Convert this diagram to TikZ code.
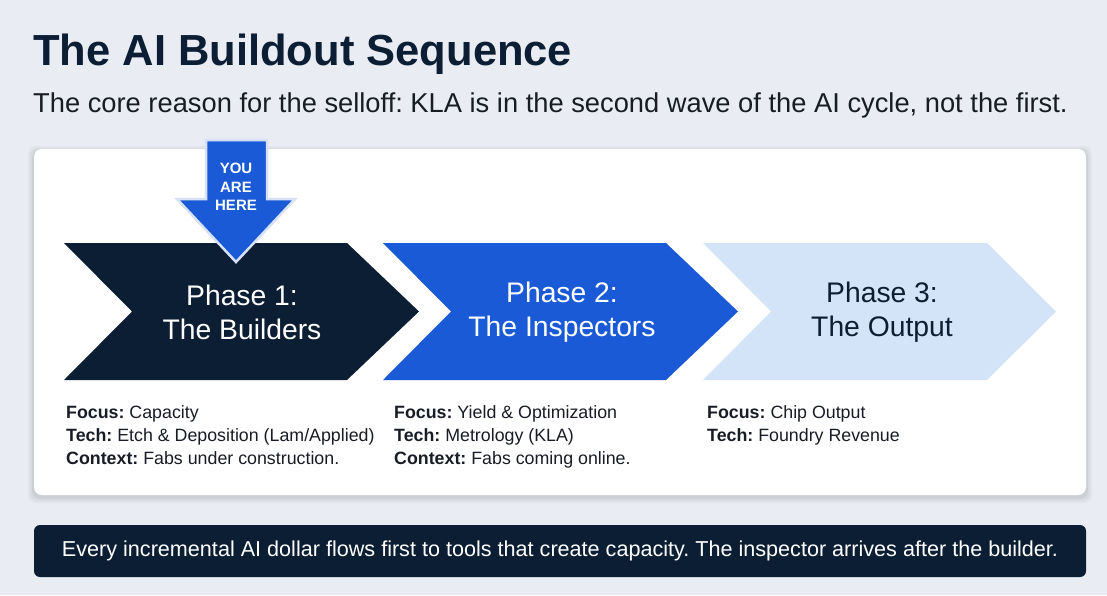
\documentclass[tikz,border=0pt]{standalone}
\usepackage{fontspec}
\setmainfont{Liberation Sans}
\frenchspacing
\usetikzlibrary{positioning}
\definecolor{bg}{RGB}{233,236,242}
\definecolor{navy}{RGB}{12,30,52}
\definecolor{royal}{RGB}{27,90,214}
\definecolor{pale}{RGB}{211,228,248}
\definecolor{ink}{RGB}{24,28,36}

\begin{document}
\begin{tikzpicture}[x=1pt, y=-1pt,
    headline/.style={anchor=base west, inner sep=0, font=\fontsize{43.5}{50}\selectfont\bfseries, text=navy},
    subline/.style={anchor=base west, inner sep=0, font=\fontsize{27.3}{32}\selectfont, text=ink},
    panel/.style={rectangle, rounded corners=8pt, fill=white, minimum width=1052pt, minimum height=346pt},
    phase/.style={align=center, font=\fontsize{28.3}{34}\selectfont},
    detail/.style={anchor=north west, align=left, inner sep=0, font=\fontsize{17.8}{23}\selectfont, text=ink},
    footer/.style={rectangle, rounded corners=6pt, fill=navy, text=white, minimum width=1052pt, minimum height=52pt, font=\fontsize{21.6}{26}\selectfont}
]
    % Background
    \fill[bg] (0,0) rectangle (1107,595);
    \useasboundingbox (0,0) rectangle (1107,595);

    % Heading
    \node[headline] (title) at (33,65) {The AI Buildout Sequence};
    \node[subline] (sub) at (33,112) {The core reason for the selloff: KLA is in the second wave of the AI cycle, not the first.};

    % Main panel with soft shadow
    \foreach \s/\o in {6/0.03, 4/0.04, 2/0.05}
        \fill[black, opacity=\o, rounded corners=8pt] (34-\s,149-\s+3) rectangle (1086+\s,495+\s+2);
    \node[panel] (board) at (560,322) {};

    % Phase chevrons
    \fill[navy] (64,243) -- (347,243) -- (419,311.5) -- (347,380) -- (64,380) -- (132,311.5) -- cycle;
    \fill[royal] (383,243) -- (666,243) -- (738,311.5) -- (666,380) -- (383,380) -- (451,311.5) -- cycle;
    \fill[pale] (703,243) -- (987,243) -- (1056,311.5) -- (987,380) -- (703,380) -- (771,311.5) -- cycle;

    \node[phase, text=white] (p1) at (242,312) {Phase 1:\\The Builders};
    \node[phase, text=white] (p2) at (562,312) {Phase 2:\\The Inspectors};
    \node[phase, text=navy] (p3) at (882,312) {Phase 3:\\The Output};

    % You are here marker
    \filldraw[fill=royal, draw=white!82!royal, line width=2.5pt, line join=miter]
        (206,140) -- (267,140) -- (267,199) -- (295,199) -- (236,262) -- (177,199) -- (206,199) -- cycle;
    \node[align=center, text=white, font=\fontsize{15}{18.5}\selectfont\bfseries] (here) at (236,187) {YOU\\ARE\\HERE};

    % Phase details
    \node[detail] (d1) at (66,405) {\textbf{Focus:} Capacity\\\textbf{Tech:} Etch \& Deposition (Lam/Applied)\\\textbf{Context:} Fabs under construction.};
    \node[detail] (d2) at (394,405) {\textbf{Focus:} Yield \& Optimization\\\textbf{Tech:} Metrology (KLA)\\\textbf{Context:} Fabs coming online.};
    \node[detail] (d3) at (707,405) {\textbf{Focus:} Chip Output\\\textbf{Tech:} Foundry Revenue};

    % Takeaway bar
    \node[footer] (note) at (560,551) {Every incremental AI dollar flows first to tools that create capacity. The inspector arrives after the builder.};
\end{tikzpicture}
\end{document}
